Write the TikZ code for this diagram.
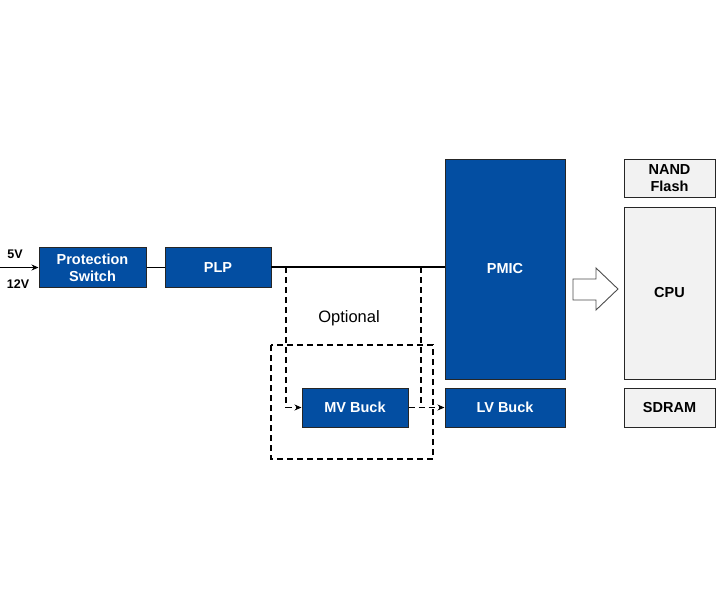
\documentclass[tikz,border=0pt]{standalone}
\usepackage{fontspec}
\setmainfont{Liberation Sans}
\usetikzlibrary{arrows.meta}
\definecolor{blu}{HTML}{034EA2}
\definecolor{lgray}{HTML}{F2F2F2}
\tikzset{
  bluebox/.style={draw=black!85, line width=1pt, fill=blu, text=white, font=\fontsize{14.5}{17}\selectfont\bfseries, align=center, inner sep=0pt},
  graybox/.style={draw=black!85, line width=1pt, fill=lgray, text=black, font=\fontsize{14.5}{17}\selectfont\bfseries, align=center, inner sep=0pt},
  wire/.style={line width=1.1pt, black},
  dwire/.style={line width=1.1pt, black, dash pattern=on 6pt off 4pt},
  tip/.style={-{Stealth[length=7pt,width=6pt]}},
  lbl/.style={font=\fontsize{12.5}{13}\selectfont\bfseries, inner sep=0pt}
}
\begin{document}
\begin{tikzpicture}[x=1pt,y=-1pt]
\useasboundingbox (0,0) rectangle (720,600);
\node[bluebox, minimum width=107pt, minimum height=40pt] (ps) at (92.5,267.5) {Protection\\Switch};
\node[bluebox, minimum width=106pt, minimum height=40pt] (plp) at (218,267.5) {PLP};
\node[bluebox, minimum width=120pt, minimum height=220pt] (pmic) at (505,269) {PMIC};
\node[bluebox, minimum width=120pt, minimum height=39pt] (lv) at (505,407.5) {LV Buck};
\node[bluebox, minimum width=106pt, minimum height=39pt] (mv) at (355,407.5) {MV Buck};
\node[graybox, minimum width=91pt, minimum height=38pt] (nand) at (669.5,178) {NAND\\Flash};
\node[graybox, minimum width=91pt, minimum height=172pt] (cpu) at (669.5,293) {CPU};
\node[graybox, minimum width=91pt, minimum height=39pt] (sdram) at (669.5,407.5) {SDRAM};
\coordinate (in) at (0,267.5);
\node[lbl] (v5) at (15,254) {5V};
\node[lbl] (v12) at (18,284) {12V};
\draw[wire, tip] (in) -- (ps.west);
\draw[wire] (ps.east) -- (plp.west);
\coordinate (m) at (271,267);
\draw[wire] (m) -- (m -| pmic.west);
\coordinate (j1) at (286,267);
\coordinate (j2) at (421,267);
\draw[dwire, tip] (j1) |- (mv.west);
\draw[dwire, tip] (mv.east) -- (lv.west);
\draw[dwire] (j2) -- (j2 |- lv.west);
\draw[dwire] (271,345) rectangle (433,459);
\node[font=\fontsize{16.5}{17}\selectfont] (opt) at (349,318) {Optional};
\draw[line width=0.9pt, draw=black!70, fill=white] (573,279) -- (596,279) -- (596,268) -- (618,289) -- (596,310) -- (596,300) -- (573,300) -- cycle;
\end{tikzpicture}
\end{document}
